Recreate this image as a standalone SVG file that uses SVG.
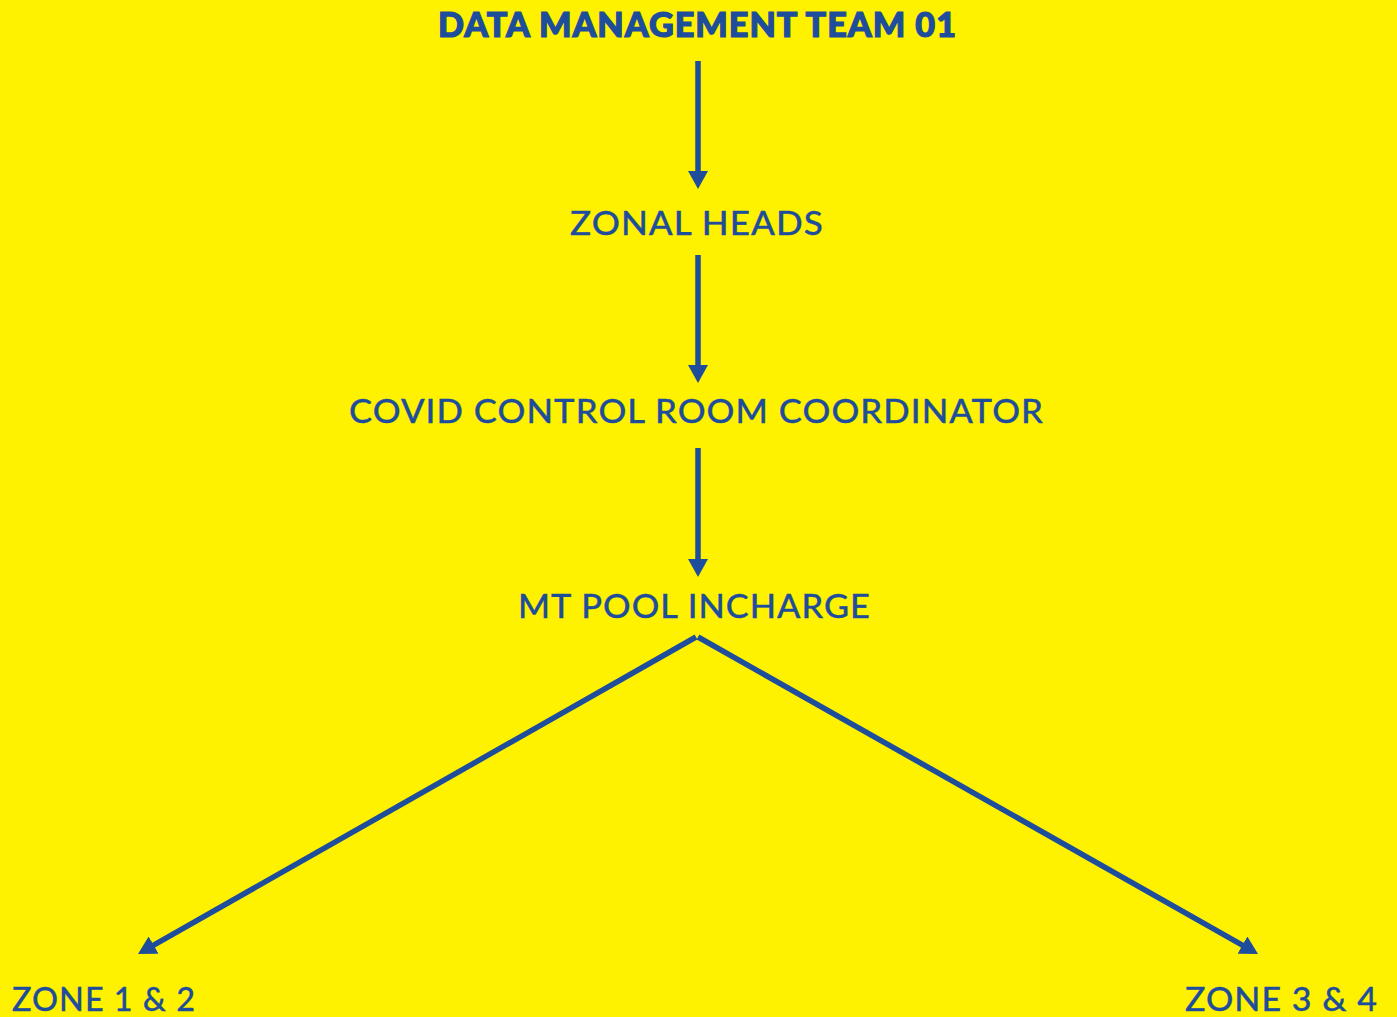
<svg xmlns="http://www.w3.org/2000/svg" width="1397" height="1017" viewBox="0 0 1397 1017">
  <style>
    .lbl { font-family: "Lato", "Liberation Sans", sans-serif; fill: #1E4D9B; stroke: #1E4D9B; stroke-width: 0.3px; font-size: 33px; font-weight: 500; letter-spacing: 1px; }
    .title { font-weight: 900; font-size: 34px; stroke-width: 1.2px; }
    .edge { stroke: #1E4D9B; stroke-width: 5.5; fill: none; marker-end: url(#head); }
  </style>
  <defs>
    <marker id="head" viewBox="0 0 18 20" refX="6" refY="10" markerWidth="18" markerHeight="20" markerUnits="userSpaceOnUse" orient="auto">
      <path d="M0,0 L18,10 L0,20 Z" fill="#1E4D9B"/>
    </marker>
  </defs>
  <rect width="1397" height="1017" fill="#FFF200"/>

  <g id="connectors">
    <line class="edge" x1="698" y1="61" x2="698" y2="177"/>
    <line class="edge" x1="698" y1="255" x2="698" y2="371"/>
    <line class="edge" x1="698" y1="448" x2="698" y2="565"/>
    <line class="edge" x1="696" y1="637" x2="148.4" y2="948.1"/>
    <line class="edge" x1="698" y1="637" x2="1247.6" y2="948.1"/>
  </g>

  <g id="data-management-team">
    <text class="lbl title" x="438" y="37" textLength="519" lengthAdjust="spacingAndGlyphs">DATA MANAGEMENT TEAM 01</text>
  </g>
  <g id="zonal-heads">
    <text class="lbl" x="570" y="235" textLength="254" lengthAdjust="spacingAndGlyphs">ZONAL HEADS</text>
  </g>
  <g id="control-room-coordinator">
    <text class="lbl" x="349" y="423" textLength="695" lengthAdjust="spacingAndGlyphs">COVID CONTROL ROOM COORDINATOR</text>
  </g>
  <g id="mt-pool-incharge">
    <text class="lbl" x="518" y="618" textLength="353" lengthAdjust="spacingAndGlyphs">MT POOL INCHARGE</text>
  </g>
  <g id="zone-1-2">
    <text class="lbl" x="12" y="1011" textLength="184" lengthAdjust="spacingAndGlyphs">ZONE 1 &amp; 2</text>
  </g>
  <g id="zone-3-4">
    <text class="lbl" x="1185" y="1011" textLength="193" lengthAdjust="spacingAndGlyphs">ZONE 3 &amp; 4</text>
  </g>
</svg>
